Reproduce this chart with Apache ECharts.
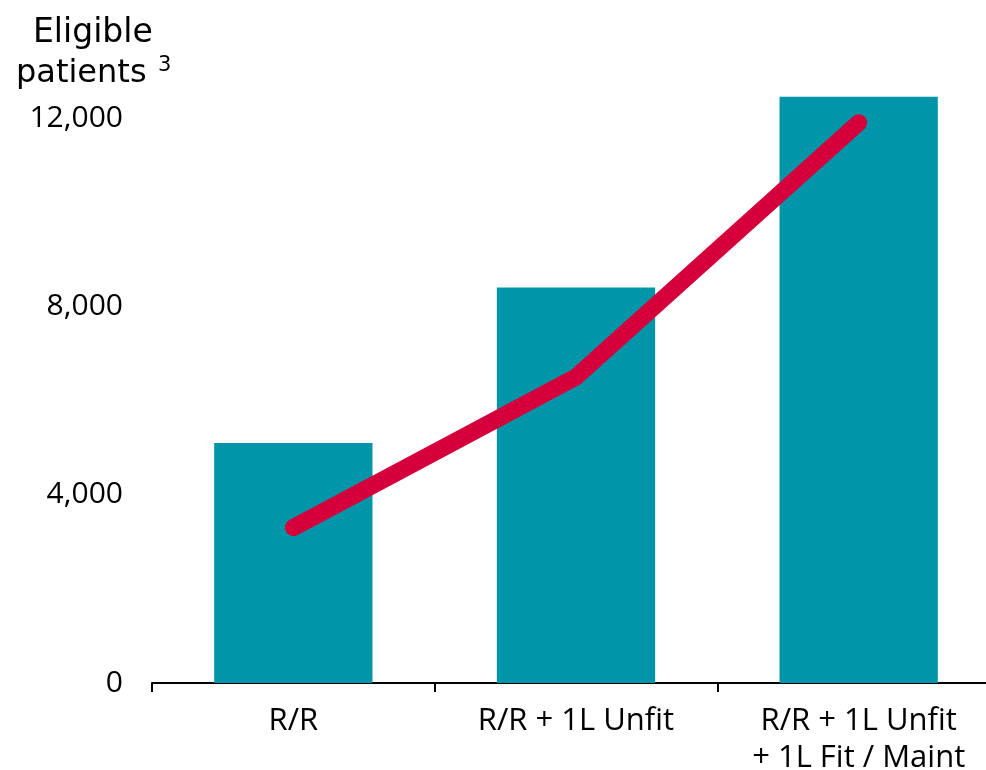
<!DOCTYPE html>
<html>
<head>
<meta charset="utf-8">
<script src="https://cdn.jsdelivr.net/npm/echarts@6/dist/echarts.min.js"></script>
<style>
  html, body { margin: 0; padding: 0; background: #ffffff; }
  #chart { width: 986px; height: 770px; }
</style>
</head>
<body>
<div id="chart"></div>
<script>
// Treatment settings on the x axis
const categories = ['R/R', 'R/R + 1L Unfit', 'R/R + 1L Unfit\n+ 1L Fit / Maint'];
// Eligible patients per setting (bars)
const eligiblePatients = [5100, 8400, 12450];
// Trend line values
const trendValues = [3300, 6500, 11900];
// Y axis tick values
const yTicks = [0, 4000, 8000, 12000];

const FONT = 'Open Sans';
const TITLE_FONT = 'DejaVu Sans';
const chart = echarts.init(document.getElementById('chart'), null, { renderer: 'canvas' });

chart.setOption({
  backgroundColor: '#ffffff',
  animation: false,
  textStyle: { fontFamily: FONT, color: '#000000' },
  graphic: [
    {
      type: 'text', x: 33, y: 17,
      style: { text: 'Eligible', font: '33px "' + TITLE_FONT + '"', fill: '#000000' }
    },
    {
      type: 'text', x: 16, y: 58,
      style: { text: 'patients', font: '32px "' + TITLE_FONT + '"', fill: '#000000' }
    },
    {
      type: 'text', x: 158, y: 55,
      style: { text: '3', font: '21px "' + TITLE_FONT + '"', fill: '#000000' }
    }
  ],
  grid: {
    left: 152, top: 118, right: -14, bottom: 87,
    containLabel: false,
    outerBoundsMode: 'none'
  },
  xAxis: {
    type: 'category',
    data: categories,
    boundaryGap: true,
    axisLine: { show: true, lineStyle: { color: '#000000', width: 2 } },
    axisTick: { show: true, alignWithLabel: false, length: 9, lineStyle: { color: '#000000', width: 2 } },
    axisLabel: {
      interval: 0, margin: 20, color: '#000000',
      fontFamily: FONT, fontSize: 31, lineHeight: 37
    }
  },
  yAxis: {
    type: 'value',
    min: yTicks[0],
    max: yTicks[yTicks.length - 1],
    interval: yTicks[1] - yTicks[0],
    axisLine: { show: false },
    axisTick: { show: false },
    splitLine: { show: false },
    axisLabel: {
      margin: 29, color: '#000000', fontFamily: FONT, fontSize: 30,
      formatter: v => v.toLocaleString('en-US')
    }
  },
  series: [
    {
      type: 'bar',
      data: eligiblePatients,
      barWidth: '56%',
      clip: false,
      itemStyle: { color: '#0095A8' }
    },
    {
      type: 'line',
      data: trendValues,
      symbol: 'none',
      clip: false,
      z: 5,
      lineStyle: { color: '#D5003B', width: 17, cap: 'round', join: 'round' }
    }
  ]
});
</script>
</body>
</html>
